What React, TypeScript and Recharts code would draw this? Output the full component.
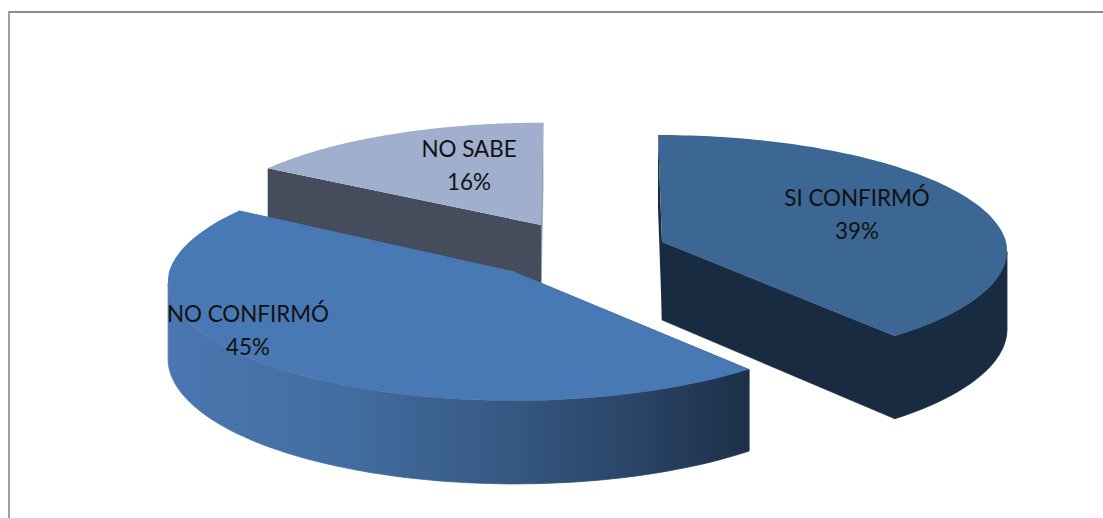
import { Pie, PieChart } from 'recharts'

// drawn back to front, so the front slice covers the walls behind it
const categories = ['NO SABE', 'SI CONFIRMÓ', 'NO CONFIRMÓ']
const shares = [16, 39, 45]

const CHART_WIDTH = 1103
const CHART_HEIGHT = 518
const PERSPECTIVE = 0.075
const FONT = 'Lato, "Open Sans", sans-serif'

type SliceStyle = {
  cx: number
  cy: number
  rx: number
  ry: number
  lean: number
  depth: number
  top: string
  wall: string
  sliver: string
  labelX: number
  labelY: number
}

const sliceStyles: Record<string, SliceStyle> = {
  'NO SABE': {
    cx: 541,
    cy: 225,
    rx: 338,
    ry: 110,
    lean: -2,
    depth: 70,
    top: '#a0afce',
    wall: '#454c5b',
    sliver: '#8795b3',
    labelX: 469,
    labelY: 157,
  },
  'SI CONFIRMÓ': {
    cx: 662,
    cy: 242,
    rx: 344,
    ry: 115,
    lean: 4,
    depth: 78,
    top: '#3c6693',
    wall: '#192b41',
    sliver: '#192b41',
    labelX: 857,
    labelY: 206,
  },
  'NO CONFIRMÓ': {
    cx: 515,
    cy: 272,
    rx: 346,
    ry: 119,
    lean: -9,
    depth: 77,
    top: '#4979b4',
    wall: 'url(#frontWall)',
    sliver: '#4979b4',
    labelX: 248,
    labelY: 322,
  },
}

const tableData = categories.map((name, i) => ({ name, value: shares[i] }))

// start where the first slice sits: the last 16% before twelve o'clock
const START_ANGLE = 90 - (100 - shares[0]) * 3.6

function projectPoint(style: SliceStyle, recAngle: number, radius: number, drop: number) {
  const theta = ((90 - recAngle) * Math.PI) / 180
  const u = Math.sin(theta) * radius
  const v = -Math.cos(theta) * radius
  const scale = 1 / (1 - PERSPECTIVE * v)
  return [
    style.cx + style.rx * u * scale + style.lean * Math.min(v, 0),
    style.cy + style.ry * v * scale + drop * scale,
  ]
}

function toPath(points: number[][]) {
  return `M${points.map(([x, y]) => `${x.toFixed(1)},${y.toFixed(1)}`).join('L')}Z`
}

function arcAngles(from: number, to: number) {
  const steps = 120
  const angles: number[] = []
  for (let i = 0; i <= steps; i += 1) {
    angles.push(from + ((to - from) * i) / steps)
  }
  return angles
}

// only the near side of the rim can be seen; it starts at the widest point of the ellipse
function isFrontFacing(recAngle: number) {
  return -Math.cos(((90 - recAngle) * Math.PI) / 180) >= PERSPECTIVE
}

function cutFace(style: SliceStyle, angle: number) {
  return toPath([
    projectPoint(style, angle, 0, 0),
    projectPoint(style, angle, 1, 0),
    projectPoint(style, angle, 1, style.depth),
    projectPoint(style, angle, 0, style.depth),
  ])
}

function ExtrudedSlice(props: any) {
  const style = sliceStyles[props.name]
  const angles = arcAngles(props.startAngle, props.endAngle)
  const topArc = angles.map((angle) => projectPoint(style, angle, 1, 0))
  const rimAngles = angles.filter(isFrontFacing)
  const rimTop = rimAngles.map((angle) => projectPoint(style, angle, 1, 0))
  const rimBottom = rimAngles.map((angle) => projectPoint(style, angle, 1, style.depth))
  const apex = projectPoint(style, 0, 0, 0)

  return (
    <g>
      <path d={cutFace(style, props.endAngle)} fill={style.sliver} stroke={style.sliver} strokeWidth={0.6} />
      <path d={cutFace(style, props.startAngle)} fill={style.wall} />
      {rimAngles.length > 1 && (
        <path
          d={toPath([...rimTop, ...rimBottom.reverse()])}
          fill={style.wall}
          stroke={style.wall}
          strokeWidth={0.8}
        />
      )}
      <path d={toPath([apex, ...topArc])} fill={style.top} />
    </g>
  )
}

function SliceLabel(props: any) {
  const style = sliceStyles[props.name]
  return (
    <text x={style.labelX} y={style.labelY} textAnchor="middle" fontFamily={FONT} fontSize={22.4} fill="#111111">
      <tspan x={style.labelX}>{props.name}</tspan>
      <tspan x={style.labelX} dy={33}>{`${props.value}%`}</tspan>
    </text>
  )
}

export default function App() {
  return (
    <div style={{ position: 'fixed', left: 0, top: 0, width: CHART_WIDTH, height: CHART_HEIGHT, background: '#ffffff' }}>
      <div
        style={{
          position: 'absolute',
          left: 8,
          top: 11,
          right: 0,
          bottom: 0,
          borderTop: '2px solid #8c8c8c',
          borderLeft: '2px solid #a0a0a0',
        }}
      />
      <PieChart width={CHART_WIDTH} height={CHART_HEIGHT} style={{ position: 'absolute', left: 0, top: 0 }}>
        <defs>
          <linearGradient id="frontWall" gradientUnits="userSpaceOnUse" x1={170} y1={0} x2={748} y2={0}>
            <stop offset="0" stopColor="#4a77b0" />
            <stop offset="0.3" stopColor="#436da1" />
            <stop offset="0.55" stopColor="#375b87" />
            <stop offset="0.8" stopColor="#2a4567" />
            <stop offset="1" stopColor="#1d2f48" />
          </linearGradient>
        </defs>
        <Pie
          data={tableData}
          dataKey="value"
          nameKey="name"
          cx={540}
          cy={260}
          outerRadius={200}
          startAngle={START_ANGLE}
          endAngle={START_ANGLE - 360}
          stroke="none"
          labelLine={false}
          label={SliceLabel}
          shape={ExtrudedSlice}
          isAnimationActive={false}
        />
      </PieChart>
    </div>
  )
}
